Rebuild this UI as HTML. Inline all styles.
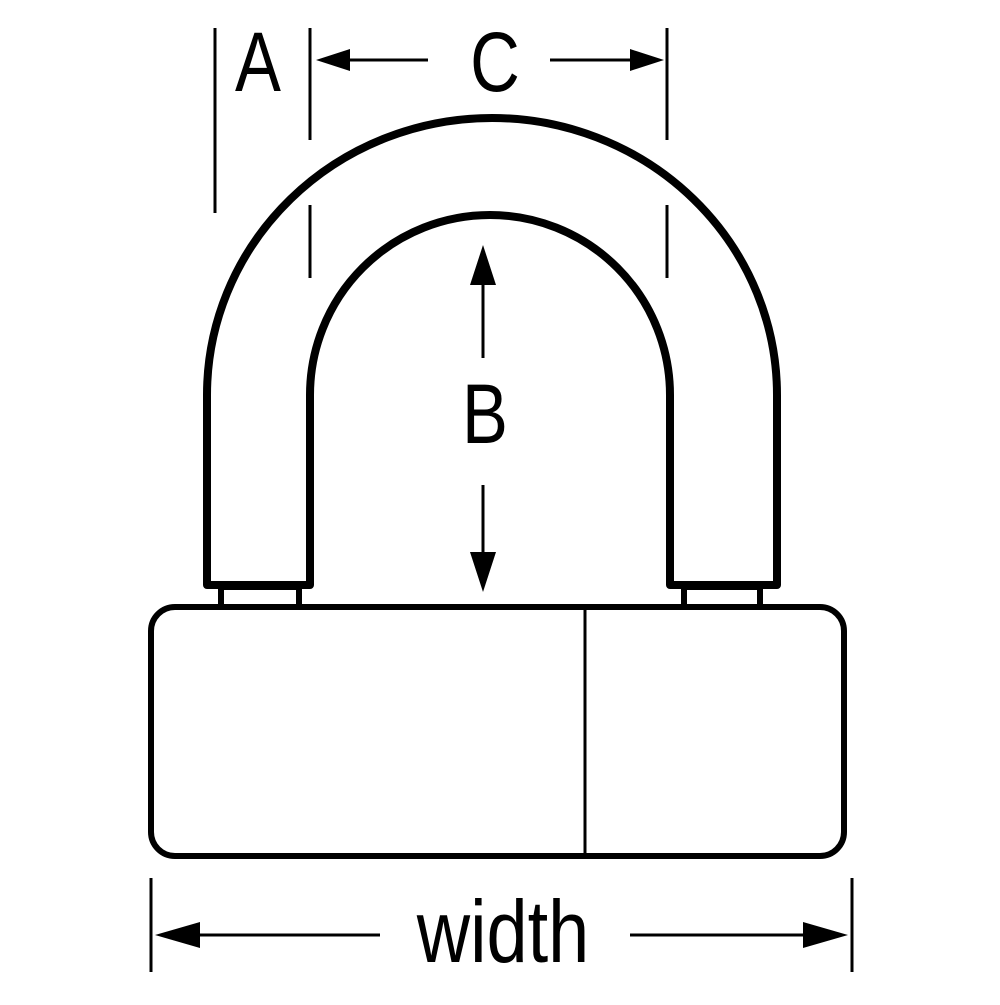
<!DOCTYPE html>
<html><head><style>html,body{margin:0;padding:0;background:#fff}</style></head>
<body>
<svg width="1000" height="1000" viewBox="0 0 1000 1000" xmlns="http://www.w3.org/2000/svg">
<g fill="none" stroke="#000" stroke-width="8" stroke-linejoin="round">
<path d="M207,585 L207,395 A285,277 0 0 1 777,395 L777,585 L670,585 L670,395 A180,180 0 0 0 310,395 L310,585 Z"/>
</g>
<g fill="none" stroke="#000" stroke-width="6">
<rect x="221" y="587" width="78" height="20"/>
<rect x="684" y="587" width="76" height="20"/>
<rect x="151" y="607" width="693" height="249" rx="24" ry="24"/>
<line x1="585" y1="607" x2="585" y2="856" stroke-width="3"/>
</g>
<g stroke="#000" stroke-width="3">
<line x1="215" y1="28" x2="215" y2="213"/>
<line x1="310" y1="28" x2="310" y2="140"/>
<line x1="310" y1="205" x2="310" y2="278"/>
<line x1="667" y1="28" x2="667" y2="140"/>
<line x1="667" y1="205" x2="667" y2="278"/>
<line x1="345" y1="60" x2="428" y2="60"/>
<line x1="550" y1="60" x2="635" y2="60"/>
<line x1="483" y1="280" x2="483" y2="358"/>
<line x1="483" y1="485" x2="483" y2="560"/>
<line x1="151" y1="878" x2="151" y2="972"/>
<line x1="852" y1="878" x2="852" y2="972"/>
<line x1="190" y1="935" x2="380" y2="935"/>
<line x1="630" y1="935" x2="815" y2="935"/>
</g>
<g fill="#000">
<polygon points="316,60 350,49 350,71"/>
<polygon points="664,60 630,49 630,71"/>
<polygon points="483,245 470,285 496,285"/>
<polygon points="483,592 470,552 496,552"/>
<polygon points="155,935 200,922 200,948"/>
<polygon points="848,935 803,922 803,948"/>
</g>
<g font-family="Liberation Sans, sans-serif" fill="#000" text-anchor="middle">
<text transform="translate(258,91) scale(0.82,1)" font-size="84">A</text>
<text transform="translate(495,91) scale(0.82,1)" font-size="84">C</text>
<text transform="translate(485,443) scale(0.82,1)" font-size="84">B</text>
<text transform="translate(503,962) scale(0.84,1)" font-size="88">width</text>
</g>
</svg>
</body></html>
